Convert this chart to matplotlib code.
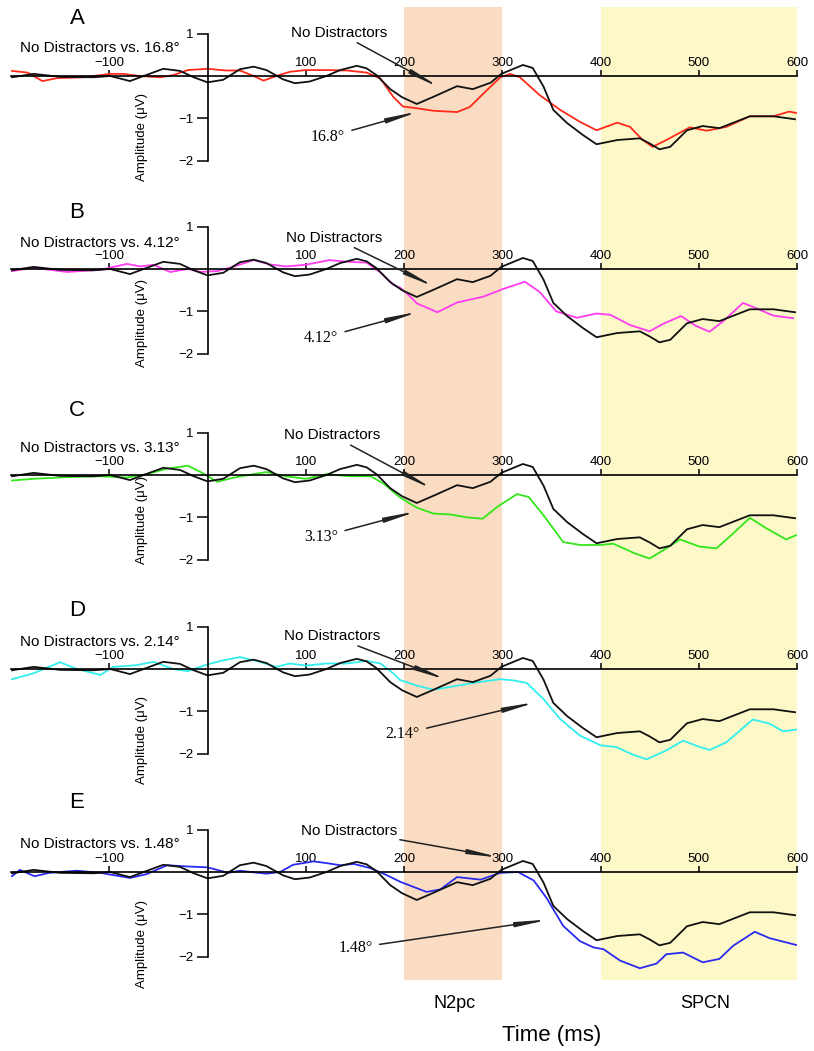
import matplotlib.pyplot as plt

plt.rcParams['font.family'] = ['Liberation Sans', 'DejaVu Sans']

W, H = 814, 1051

# "No Distractors" reference curve (same in every panel)
black_t = [-199, -177, -150, -116, -99, -79, -65, -45, -28, -14, 0, 16, 33, 47, 60, 77, 89, 104,
           121, 135, 152, 162, 172, 186, 198, 213, 230, 254, 270, 288, 299, 321, 331, 342, 352,
           366, 382, 396, 417, 440, 450, 460, 471, 488, 504, 521, 552, 576, 598]
black_v = [-0.03, 0.05, -0.02, -0.03, 0, -0.12, 0, 0.17, 0.12, -0.03, -0.15, -0.09, 0.16, 0.22,
           0.14, -0.08, -0.17, -0.13, 0, 0.14, 0.24, 0.18, 0.02, -0.31, -0.5, -0.66, -0.49, -0.24,
           -0.31, -0.16, 0.05, 0.26, 0.19, -0.25, -0.80, -1.11, -1.39, -1.61, -1.51, -1.47, -1.59,
           -1.73, -1.67, -1.28, -1.18, -1.23, -0.95, -0.95, -1.02]

# 16.8 deg
red_t = [-199, -183, -168, -153, -126, -99, -86, -69, -48, -35, -20, 0, 19, 33, 47, 57, 70, 84,
         100, 121, 142, 162, 176, 189, 199, 213, 230, 254, 267, 281, 298, 308, 318, 338, 359,
         379, 396, 417, 430, 443, 453, 467, 491, 508, 528, 552, 576, 592, 599]
red_v = [0.12, 0.08, -0.12, -0.05, -0.03, 0.05, 0.05, 0, -0.03, 0.02, 0.14, 0.17, 0.13, 0.13, 0,
         -0.11, 0, 0.10, 0.14, 0.14, 0.13, 0.08, -0.06, -0.49, -0.72, -0.76, -0.82, -0.85, -0.73,
         -0.41, -0.03, 0.05, -0.03, -0.45, -0.8, -1.08, -1.28, -1.1, -1.2, -1.51, -1.67, -1.51,
         -1.21, -1.29, -1.2, -0.95, -0.95, -0.84, -0.87]

# 4.12 deg
mag_t = [-199, -177, -143, -109, -82, -68, -55, -38, -20, -7, 10, 27, 47, 63, 80, 100, 124, 142,
         162, 176, 189, 196, 205, 213, 234, 254, 281, 301, 323, 338, 355, 376, 396, 410, 430, 450,
         464, 482, 497, 511, 525, 545, 559, 576, 596]
mag_v = [-0.05, 0.03, -0.07, -0.02, 0.12, 0.06, 0.10, -0.07, 0, -0.07, -0.05, 0.06, 0.21, 0.11,
         0.06, 0.10, 0.21, 0.17, 0.15, -0.08, -0.37, -0.44, -0.62, -0.81, -1.02, -0.79, -0.65,
         -0.47, -0.30, -0.54, -1.0, -1.15, -1.05, -1.08, -1.32, -1.47, -1.29, -1.11, -1.34, -1.48,
         -1.23, -0.80, -0.93, -1.1, -1.16]

# 3.13 deg
grn_t = [-199, -177, -143, -109, -82, -62, -41, -20, -7, 10, 27, 47, 60, 80, 100, 121, 145, 166,
         179, 196, 213, 230, 247, 264, 280, 295, 315, 327, 342, 362, 379, 400, 413, 434, 450, 467,
         481, 501, 518, 535, 552, 569, 589, 599]
grn_v = [-0.13, -0.09, -0.05, -0.03, -0.06, 0.02, 0.15, 0.22, 0.07, -0.16, -0.06, 0.02, 0.07,
         -0.03, -0.09, 0.02, -0.03, -0.03, -0.2, -0.53, -0.77, -0.91, -0.93, -1.0, -1.03, -0.75,
         -0.45, -0.52, -0.95, -1.58, -1.65, -1.65, -1.62, -1.84, -1.97, -1.73, -1.52, -1.69,
         -1.73, -1.38, -1.01, -1.26, -1.52, -1.42]

# 2.14 deg
cyn_t = [-199, -177, -150, -133, -109, -96, -72, -55, -35, -20, 0, 17, 33, 50, 70, 84, 100, 121,
         142, 162, 176, 189, 196, 213, 230, 250, 270, 298, 312, 325, 342, 359, 379, 400, 416, 433,
         447, 467, 484, 501, 511, 528, 555, 572, 586, 599]
cyn_v = [-0.24, -0.10, 0.16, 0, -0.14, 0.05, 0.09, 0.17, 0, -0.05, 0.11, 0.21, 0.28, 0.19, 0.05,
         0.13, 0.08, 0.13, 0.13, 0.19, 0.13, -0.10, -0.26, -0.39, -0.49, -0.41, -0.33, -0.24,
         -0.27, -0.33, -0.71, -1.18, -1.57, -1.80, -1.84, -2.02, -2.13, -1.92, -1.69, -1.84,
         -1.91, -1.73, -1.19, -1.29, -1.47, -1.43]

# 1.48 deg
blu_t = [-199, -191, -176, -161, -133, -109, -79, -62, -41, -20, 0, 21, 33, 60, 74, 87, 108, 121,
         135, 149, 166, 183, 196, 223, 237, 254, 278, 298, 316, 332, 345, 362, 379, 393, 403, 420,
         440, 457, 467, 484, 504, 521, 535, 557, 572, 599]
blu_v = [-0.10, 0.05, -0.10, -0.02, 0.03, -0.02, -0.14, -0.05, 0.16, 0.13, 0.11, -0.02, 0.03,
         -0.04, 0, 0.17, 0.25, 0.21, 0.16, 0.19, 0.09, -0.08, -0.23, -0.47, -0.41, -0.12, -0.18,
         -0.02, 0, -0.2, -0.61, -1.27, -1.63, -1.78, -1.82, -2.09, -2.27, -2.16, -1.94, -1.90,
         -2.13, -2.05, -1.74, -1.41, -1.56, -1.72]

letters = ['A', 'B', 'C', 'D', 'E']
conds = ['16.8°', '4.12°', '3.13°', '2.14°', '1.48°']
colors = ['#ff2a1a', '#ff3cf0', '#33e61a', '#33eeee', '#2a2af0']
series = [(red_t, red_v), (mag_t, mag_v), (grn_t, grn_v), (cyn_t, cyn_v), (blu_t, blu_v)]

xticks = [-100, 100, 200, 300, 400, 500, 600]
yticks = [1, -1, -2]

# layout (pixel positions)
zero_px = [76, 269, 475, 669, 872]
letter_px = [18, 213, 410, 610, 802]
title_px = [48, 243, 448, 642, 844]
amp_px = [137, 323, 520, 740, 944]
# annotation positions in data units: (tail, head) for "No Distractors" and the condition label
nd_arrows = [((183, 0.85), (237, -0.28)), ((178, 0.57), (232, -0.43)), ((176, 0.77), (230, -0.34)),
             ((176, 0.61), (244, -0.26)), ((193, 0.81), (298, 0.34))]
cond_arrows = [((140, -1.44), (216, -0.83)), ((133, -1.63), (216, -1.0)), ((133, -1.46), (214, -0.85)),
               ((216, -1.53), (335, -0.78)), ((168, -1.79), (348, -1.12))]

fig = plt.figure(figsize=(W / 100, H / 100), dpi=100)

ax_left = 11 / W
ax_w = 786 / W

# shaded N2pc / SPCN windows across all panels
bg = fig.add_axes([ax_left, 1 - 980 / H, ax_w, (980 - 7) / H])
bg.set_xlim(-200, 600)
bg.set_ylim(0, 1)
bg.axvspan(200, 300, color='#f9dcc1', lw=0)
bg.axvspan(400, 600, color='#fcf8c8', lw=0)
bg.axis('off')

scale = 42.4
ylo, yhi = -2.4, 1.2
for i in range(5):
    z = zero_px[i]
    bottom = z + (-ylo) * scale
    ax = fig.add_axes([ax_left, 1 - bottom / H, ax_w, (yhi - ylo) * scale / H])
    ax.patch.set_alpha(0)
    ax.set_xlim(-200, 600)
    ax.set_ylim(ylo, yhi)

    t, v = series[i]
    ax.plot(t, v, color=colors[i], lw=1.3, solid_joinstyle='round')
    ax.plot(black_t, black_v, color='#111111', lw=1.3, solid_joinstyle='round')

    for s in ['right', 'bottom']:
        ax.spines[s].set_visible(False)
    ax.spines['top'].set_position(('data', 0))
    ax.spines['top'].set_bounds(-200, 600)
    ax.spines['left'].set_position(('data', 0))
    ax.spines['left'].set_bounds(-2, 1)
    for s in ['top', 'left']:
        ax.spines[s].set_linewidth(1.2)
    ax.xaxis.tick_top()
    ax.set_xticks(xticks)
    ax.set_xticklabels([str(x).replace('-', '\u2212') for x in xticks])
    ax.set_yticks(yticks)
    ax.set_yticklabels([str(y).replace('-', '\u2212') for y in yticks])
    ax.tick_params(axis='x', direction='out', length=4, width=1.1, pad=1, labelsize=9.5)
    ax.tick_params(axis='y', direction='out', length=8, width=1.1, pad=2, labelsize=9.5)

    (tx, ty), (hx, hy) = nd_arrows[i]
    ax.annotate('No Distractors', xy=(hx, hy), xytext=(tx, ty), ha='right', va='bottom',
                fontsize=11, arrowprops=dict(arrowstyle='-|>,head_length=1.6,head_width=0.12',
                                             color='#222222', lw=1.1, shrinkA=0, shrinkB=0))
    (tx, ty), (hx, hy) = cond_arrows[i]
    ax.annotate(conds[i], xy=(hx, hy), xytext=(tx, ty), ha='right', va='center',
                fontsize=11.5, family=['Liberation Serif', 'DejaVu Serif'],
                arrowprops=dict(arrowstyle='-|>,head_length=1.6,head_width=0.12',
                                color='#222222', lw=1.1, shrinkA=3, shrinkB=0))

    fig.text(77 / W, 1 - letter_px[i] / H, letters[i], fontsize=16, ha='center', va='center')
    fig.text(20 / W, 1 - title_px[i] / H, 'No Distractors vs. ' + conds[i], fontsize=11,
             ha='left', va='center')
    fig.text(142 / W, 1 - amp_px[i] / H, 'Amplitude (\u03bcV)', fontsize=9.5, rotation=90,
             ha='center', va='center')

fig.text(455 / W, 1 - 1003 / H, 'N2pc', fontsize=13, ha='center', va='center')
fig.text(705 / W, 1 - 1003 / H, 'SPCN', fontsize=13, ha='center', va='center')
fig.text(552 / W, 1 - 1035 / H, 'Time (ms)', fontsize=16, ha='center', va='center')

fig.savefig('out.png', dpi=100)
